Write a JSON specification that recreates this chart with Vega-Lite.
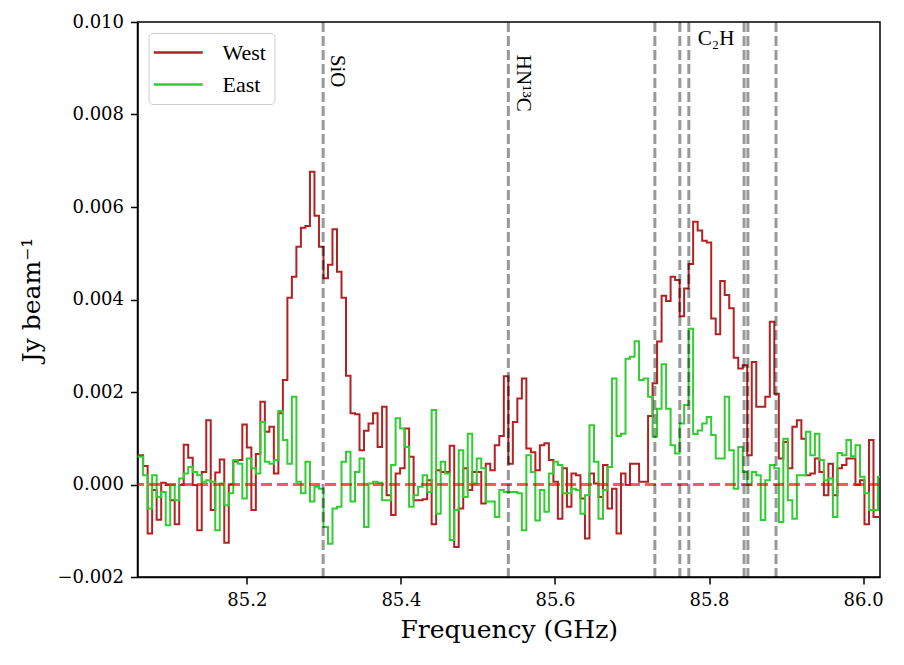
{
  "$schema": "https://vega.github.io/schema/vega-lite/v6.json",
  "width": 742.5,
  "height": 555,
  "autosize": {"type": "none"},
  "padding": {"left": 137.5, "top": 22, "right": 24, "bottom": 88},
  "background": "white",
  "config": {
    "view": {"stroke": "black", "strokeWidth": 1.5},
    "font": "DejaVu Serif, serif",
    "style": {
      "guide-label": {"font": "DejaVu Serif, serif", "fill": "black"},
      "guide-title": {"font": "DejaVu Serif, serif", "fill": "black", "fontWeight": "normal"}
    },
    "axis": {
      "grid": false,
      "domainColor": "black",
      "domainWidth": 1.5,
      "tickColor": "black",
      "tickWidth": 1.5,
      "tickSize": 7,
      "labelColor": "black",
      "titleColor": "black",
      "labelFont": "DejaVu Serif, serif",
      "titleFont": "DejaVu Serif, serif",
      "labelFontSize": 18,
      "titleFontSize": 25,
      "titleFontWeight": "normal"
    },
    "axisX": {"titleFont": "DejaVu Serif, serif", "titleFontSize": 25, "labelFont": "DejaVu Serif, serif", "labelFontSize": 18},
    "axisY": {"titleFont": "DejaVu Serif, serif", "titleFontSize": 25, "labelFont": "DejaVu Serif, serif", "labelFontSize": 18},
    "legend": {"labelFont": "Liberation Serif, serif"}
  },
  "datasets": {
    "spec": [
      {"f": 85.0565, "West": 0.00063, "East": 0.0006},
      {"f": 85.0624, "West": 0.00063, "East": 0.0006},
      {"f": 85.0682, "West": 0.0004, "East": 0.0002},
      {"f": 85.0741, "West": -0.00106, "East": -0.00052},
      {"f": 85.0799, "West": -0.00012, "East": 0.0002},
      {"f": 85.0858, "West": -0.00076, "East": -0.00027},
      {"f": 85.0917, "West": 0.00004, "East": -0.00016},
      {"f": 85.0975, "West": -0.00001, "East": -0.00088},
      {"f": 85.1034, "West": -0.00034, "East": -0.00001},
      {"f": 85.1092, "West": -0.00086, "East": -0.00034},
      {"f": 85.1151, "West": -0.00001, "East": 0.00013},
      {"f": 85.1209, "West": 0.00086, "East": 0.00024},
      {"f": 85.1268, "West": 0.00058, "East": 0.00038},
      {"f": 85.1326, "West": -0.00001, "East": 0.00027},
      {"f": 85.1385, "West": -0.00099, "East": 0.0002},
      {"f": 85.1443, "West": 0.00027, "East": 0.00006},
      {"f": 85.1502, "West": 0.00139, "East": 0.00009},
      {"f": 85.156, "West": -0.00055, "East": 0.00006},
      {"f": 85.1619, "West": 0.00026, "East": -0.00099},
      {"f": 85.1677, "West": 0.00054, "East": 0.00002},
      {"f": 85.1736, "West": -0.00126, "East": -0.00045},
      {"f": 85.1794, "West": 0.0, "East": -0.00019},
      {"f": 85.1853, "West": 0.0005, "East": 0.00053},
      {"f": 85.1912, "West": 0.00053, "East": 0.00045},
      {"f": 85.197, "West": 0.0013, "East": -0.0003},
      {"f": 85.2029, "West": 0.0008, "East": 0.00056},
      {"f": 85.2087, "West": -0.00055, "East": 0.00035},
      {"f": 85.2146, "West": 0.00066, "East": 0.00024},
      {"f": 85.2204, "West": 0.00179, "East": 0.00135},
      {"f": 85.2263, "West": 0.00114, "East": 0.00049},
      {"f": 85.2321, "West": 0.00125, "East": 0.00045},
      {"f": 85.238, "West": 0.00024, "East": 0.00053},
      {"f": 85.2438, "West": 0.00154, "East": 0.00159},
      {"f": 85.2497, "West": 0.00226, "East": 0.00096},
      {"f": 85.2555, "West": 0.00404, "East": 0.00045},
      {"f": 85.2614, "West": 0.00449, "East": 0.0019},
      {"f": 85.2672, "West": 0.00514, "East": 0.00006},
      {"f": 85.2731, "West": 0.00555, "East": -0.00019},
      {"f": 85.279, "West": 0.00559, "East": 0.00049},
      {"f": 85.2848, "West": 0.00676, "East": -0.00037},
      {"f": 85.2907, "West": 0.00581, "East": -0.00005},
      {"f": 85.2965, "West": 0.00514, "East": -0.00009},
      {"f": 85.3024, "West": 0.00446, "East": -0.00092},
      {"f": 85.3082, "West": 0.00475, "East": -0.00128},
      {"f": 85.3141, "West": 0.00552, "East": -0.00052},
      {"f": 85.3199, "West": 0.0046, "East": -0.00048},
      {"f": 85.3258, "West": 0.00404, "East": 0.00049},
      {"f": 85.3316, "West": 0.00235, "East": 0.00071},
      {"f": 85.3375, "West": 0.00154, "East": -0.00037},
      {"f": 85.3433, "West": 0.00152, "East": 0.00027},
      {"f": 85.3492, "West": 0.00074, "East": 0.00056},
      {"f": 85.355, "West": 0.00116, "East": -0.00092},
      {"f": 85.3609, "West": 0.00132, "East": 0.00002},
      {"f": 85.3668, "West": 0.00154, "East": 0.00006},
      {"f": 85.3726, "West": 0.00081, "East": 0.00004},
      {"f": 85.3785, "West": 0.00168, "East": -0.00034},
      {"f": 85.3843, "West": -0.00023, "East": -0.00034},
      {"f": 85.3902, "West": -0.00066, "East": 0.00042},
      {"f": 85.396, "West": 0.00024, "East": 0.00143},
      {"f": 85.4019, "West": 0.00035, "East": 0.00121},
      {"f": 85.4077, "West": 0.00121, "East": 0.00081},
      {"f": 85.4136, "West": 0.0006, "East": -0.00048},
      {"f": 85.4194, "West": -0.00034, "East": -0.00023},
      {"f": 85.4253, "West": -0.00034, "East": -0.00005},
      {"f": 85.4311, "West": -0.00032, "East": 0.0002},
      {"f": 85.437, "West": 0.00009, "East": -0.00016},
      {"f": 85.4428, "West": -0.00086, "East": 0.00161},
      {"f": 85.4487, "West": 0.00031, "East": -0.00063},
      {"f": 85.4546, "West": 0.00027, "East": 0.00049},
      {"f": 85.4604, "West": 0.00027, "East": 0.00024},
      {"f": 85.4663, "West": 0.00084, "East": -0.0012},
      {"f": 85.4721, "West": -0.00135, "East": -0.00055},
      {"f": 85.478, "West": -0.00052, "East": 0.00074},
      {"f": 85.4838, "West": 0.00035, "East": -0.00027},
      {"f": 85.4897, "West": -0.00012, "East": 0.0011},
      {"f": 85.4955, "West": 0.00027, "East": 0.00002},
      {"f": 85.5014, "West": 0.00027, "East": 0.00056},
      {"f": 85.5072, "West": -0.00041, "East": 0.00035},
      {"f": 85.5131, "West": 0.00045, "East": -0.00037},
      {"f": 85.5189, "West": 0.00031, "East": -0.00037},
      {"f": 85.5248, "West": 0.00085, "East": -0.0007},
      {"f": 85.5307, "West": 0.00105, "East": -0.00012},
      {"f": 85.5365, "West": 0.00234, "East": -0.00016},
      {"f": 85.5424, "West": 0.00045, "East": -0.00016},
      {"f": 85.5482, "West": 0.00135, "East": -0.00016},
      {"f": 85.5541, "West": 0.00186, "East": -0.00019},
      {"f": 85.5599, "West": 0.00229, "East": -0.00099},
      {"f": 85.5658, "West": 0.00078, "East": 0.00063},
      {"f": 85.5716, "West": 0.0007, "East": 0.00027},
      {"f": 85.5775, "West": 0.00031, "East": -0.00078},
      {"f": 85.5833, "West": 0.00085, "East": -0.00012},
      {"f": 85.5892, "West": 0.00089, "East": -0.00059},
      {"f": 85.595, "West": 0.00053, "East": 0.00024},
      {"f": 85.6009, "West": 0.00006, "East": 0.00049},
      {"f": 85.6067, "West": -0.00074, "East": 0.00042},
      {"f": 85.6126, "West": 0.00035, "East": -0.00019},
      {"f": 85.6185, "West": -0.00048, "East": -0.00019},
      {"f": 85.6243, "West": 0.00024, "East": -0.00009},
      {"f": 85.6302, "West": 0.0002, "East": -0.00012},
      {"f": 85.636, "West": -0.0003, "East": -0.00063},
      {"f": 85.6419, "West": -0.00117, "East": -0.00023},
      {"f": 85.6477, "West": 0.00024, "East": 0.00128},
      {"f": 85.6536, "West": 0.00002, "East": 0.00049},
      {"f": 85.6594, "West": -0.00027, "East": -0.00074},
      {"f": 85.6653, "West": 0.00042, "East": -0.00012},
      {"f": 85.6711, "West": -0.00052, "East": 0.00038},
      {"f": 85.677, "West": -0.00009, "East": 0.00229},
      {"f": 85.6828, "West": -0.00106, "East": 0.00105},
      {"f": 85.6887, "West": 0.00024, "East": 0.0011},
      {"f": 85.6945, "West": -0.00001, "East": 0.00272},
      {"f": 85.7004, "West": 0.00045, "East": 0.00276},
      {"f": 85.7063, "West": 0.00045, "East": 0.0031},
      {"f": 85.7121, "West": 0.00006, "East": 0.00226},
      {"f": 85.718, "West": 0.00006, "East": 0.00229},
      {"f": 85.7238, "West": 0.00148, "East": 0.0019},
      {"f": 85.7297, "West": 0.00219, "East": 0.00103},
      {"f": 85.7355, "West": 0.00309, "East": 0.00164},
      {"f": 85.7414, "West": 0.00408, "East": 0.0026},
      {"f": 85.7472, "West": 0.00397, "East": 0.00164},
      {"f": 85.7531, "West": 0.00449, "East": 0.00085},
      {"f": 85.7589, "West": 0.00442, "East": 0.00067},
      {"f": 85.7648, "West": 0.00364, "East": 0.00132},
      {"f": 85.7706, "West": 0.00424, "East": 0.00172},
      {"f": 85.7765, "West": 0.00477, "East": 0.00337},
      {"f": 85.7823, "West": 0.00568, "East": 0.00109},
      {"f": 85.7882, "West": 0.00549, "East": 0.00117},
      {"f": 85.7941, "West": 0.00527, "East": 0.00132},
      {"f": 85.7999, "West": 0.00523, "East": 0.00146},
      {"f": 85.8058, "West": 0.00359, "East": 0.00107},
      {"f": 85.8116, "West": 0.00325, "East": 0.00056},
      {"f": 85.8175, "West": 0.0044, "East": 0.00056},
      {"f": 85.8233, "West": 0.0041, "East": 0.0019},
      {"f": 85.8292, "West": 0.00381, "East": 0.00074},
      {"f": 85.835, "West": 0.00274, "East": -0.00009},
      {"f": 85.8409, "West": 0.00251, "East": 0.00081},
      {"f": 85.8467, "West": 0.00258, "East": 0.00027},
      {"f": 85.8526, "West": 0.00063, "East": -0.00001},
      {"f": 85.8584, "West": 0.00265, "East": 0.00027},
      {"f": 85.8643, "West": 0.00168, "East": 0.0002},
      {"f": 85.8701, "West": 0.00168, "East": -0.00077},
      {"f": 85.876, "West": 0.0019, "East": 0.00009},
      {"f": 85.8819, "West": 0.00352, "East": 0.00042},
      {"f": 85.8877, "West": 0.00196, "East": 0.00035},
      {"f": 85.8936, "West": 0.00056, "East": -0.00081},
      {"f": 85.8994, "West": 0.00092, "East": 0.00099},
      {"f": 85.9053, "West": 0.00035, "East": -0.00034},
      {"f": 85.9111, "West": 0.00125, "East": -0.00074},
      {"f": 85.917, "West": 0.00139, "East": 0.0002},
      {"f": 85.9228, "West": 0.00099, "East": 0.0002},
      {"f": 85.9287, "West": 0.0002, "East": 0.00114},
      {"f": 85.9345, "West": 0.00024, "East": 0.00063},
      {"f": 85.9404, "West": 0.00056, "East": 0.0011},
      {"f": 85.9462, "West": 0.00027, "East": 0.00053},
      {"f": 85.9521, "West": -0.00023, "East": 0.00009},
      {"f": 85.9579, "West": 0.00045, "East": 0.00013},
      {"f": 85.9638, "West": -0.00023, "East": -0.0007},
      {"f": 85.9697, "West": 0.00035, "East": 0.00068},
      {"f": 85.9755, "West": 0.00042, "East": 0.00063},
      {"f": 85.9814, "West": 0.00056, "East": 0.00096},
      {"f": 85.9872, "West": 0.00056, "East": 0.00061},
      {"f": 85.9931, "West": -0.00001, "East": 0.00085},
      {"f": 85.9989, "West": 0.00009, "East": 0.00017},
      {"f": 86.0048, "West": -0.00086, "East": -0.00019},
      {"f": 86.0106, "West": 0.00096, "East": -0.00055},
      {"f": 86.0165, "West": -0.0007, "East": -0.00055},
      {"f": 86.0223, "West": -0.0007, "East": 0.00017}
    ],
    "lines": [
      {"f": 85.299}, {"f": 85.5395}, {"f": 85.7297}, {"f": 85.7621},
      {"f": 85.7738}, {"f": 85.8455}, {"f": 85.8505}, {"f": 85.887}
    ],
    "zero": [{"v": 0}],
    "vlabels": [
      {"name": "SiO", "f": 85.3176, "v": 0.00929},
      {"name": "HN¹³C", "f": 85.5583, "v": 0.00929}
    ],
    "hlabels": [
      {"name": "C₂H", "f": 85.7855, "v": 0.0095}
    ]
  },
  "layer": [
    {
      "data": {"name": "spec"},
      "transform": [
        {"fold": ["West", "East"], "as": ["s", "v"]},
        {"filter": "datum.s === 'West'"}
      ],
      "mark": {"type": "line", "interpolate": "step", "strokeWidth": 2, "clip": true},
      "encoding": {
        "x": {
          "field": "f", "type": "quantitative", "title": "Frequency (GHz)",
          "scale": {"domain": [85.058, 86.022], "nice": false, "zero": false},
          "axis": {"values": [85.2, 85.4, 85.6, 85.8, 86.0], "format": ".1f", "labelPadding": 7, "titlePadding": 8}
        },
        "y": {
          "field": "v", "type": "quantitative", "title": "Jy beam⁻¹",
          "scale": {"domain": [-0.002, 0.010], "nice": false, "zero": false},
          "axis": {"values": [-0.002, 0, 0.002, 0.004, 0.006, 0.008, 0.010], "format": ".3f", "labelPadding": 7, "titleX": -106, "titleY": 277.5, "titleAngle": -90, "titleAlign": "center", "titleBaseline": "middle"}
        },
        "color": {
          "field": "s", "type": "nominal",
          "scale": {"domain": ["West", "East"], "range": ["#b22222", "#32cd32"]},
          "legend": {
            "orient": "none", "legendX": 11, "legendY": 11, "title": null,
            "symbolType": "M-1.45,0H3.55", "symbolSize": 384, "symbolStrokeWidth": 2.5,
            "labelFont": "Liberation Serif, serif", "labelFontSize": 22, "labelColor": "black",
            "labelOffset": 43, "fillColor": "white", "strokeColor": "#cccccc",
            "cornerRadius": 4, "padding": 8, "rowPadding": 9
          }
        }
      }
    },
    {
      "data": {"name": "spec"},
      "transform": [
        {"fold": ["West", "East"], "as": ["s", "v"]},
        {"filter": "datum.s === 'East'"}
      ],
      "mark": {"type": "line", "interpolate": "step", "strokeWidth": 2, "clip": true},
      "encoding": {
        "x": {"field": "f", "type": "quantitative", "title": "Frequency (GHz)"},
        "y": {"field": "v", "type": "quantitative", "title": "Jy beam⁻¹"},
        "color": {"field": "s", "type": "nominal"}
      }
    },
    {
      "data": {"name": "zero"},
      "mark": {"type": "rule", "color": "red", "opacity": 0.65, "strokeWidth": 3, "strokeDash": [11, 5]},
      "encoding": {"y": {"field": "v", "type": "quantitative", "title": "Jy beam⁻¹"}}
    },
    {
      "data": {"name": "lines"},
      "mark": {"type": "rule", "color": "black", "opacity": 0.4, "strokeWidth": 3, "strokeDash": [10, 4]},
      "encoding": {"x": {"field": "f", "type": "quantitative", "title": "Frequency (GHz)"}}
    },
    {
      "data": {"name": "vlabels"},
      "mark": {"type": "text", "angle": 90, "align": "left", "baseline": "middle", "font": "Liberation Serif, serif", "fontSize": 21, "color": "black"},
      "encoding": {
        "x": {"field": "f", "type": "quantitative", "title": "Frequency (GHz)"},
        "y": {"field": "v", "type": "quantitative", "title": "Jy beam⁻¹"},
        "text": {"field": "name"}
      }
    },
    {
      "data": {"name": "hlabels"},
      "mark": {"type": "text", "align": "left", "baseline": "alphabetic", "font": "Liberation Serif, serif", "fontSize": 21, "color": "black"},
      "encoding": {
        "x": {"field": "f", "type": "quantitative", "title": "Frequency (GHz)"},
        "y": {"field": "v", "type": "quantitative", "title": "Jy beam⁻¹"},
        "text": {"field": "name"}
      }
    }
  ]
}
